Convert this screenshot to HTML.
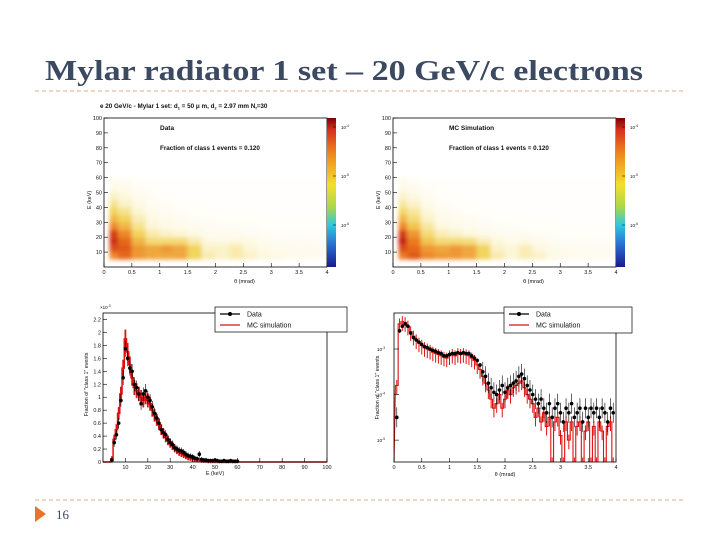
<!DOCTYPE html>
<html><head><meta charset="utf-8">
<style>
html,body{margin:0;padding:0;background:#fff;width:720px;height:540px;overflow:hidden;}
svg{display:block;font-family:"Liberation Sans",Arial,sans-serif;}
</style></head>
<body>
<svg id="slide" width="720" height="540" viewBox="0 0 720 540" xmlns="http://www.w3.org/2000/svg">
<defs>
<linearGradient id="cbar" x1="0" y1="0" x2="0" y2="1">
<stop offset="0" stop-color="#7a0403"/><stop offset="0.08" stop-color="#d7301f"/>
<stop offset="0.25" stop-color="#f08c1e"/><stop offset="0.45" stop-color="#f2e02c"/>
<stop offset="0.6" stop-color="#a8d84a"/><stop offset="0.72" stop-color="#2ec8e0"/>
<stop offset="0.85" stop-color="#2a6fd0"/><stop offset="1" stop-color="#1a1a8c"/>
</linearGradient>
<filter id="soft" x="-5%" y="-5%" width="110%" height="110%"><feGaussianBlur stdDeviation="2"/></filter>
<clipPath id="clipTL"><rect x="104" y="118" width="223" height="149"/></clipPath>
<clipPath id="clipTR"><rect x="393" y="118" width="223" height="149"/></clipPath>
<clipPath id="clipBR"><rect x="394" y="313" width="222" height="149"/></clipPath>
</defs>
<text x="45" y="80" font-family="Liberation Serif, serif" font-size="28" font-weight="bold" fill="#3b4a60" textLength="598" lengthAdjust="spacingAndGlyphs">Mylar radiator 1 set – 20 GeV/c electrons</text>
<line x1="35" y1="91" x2="686" y2="91" stroke="#dcae80" stroke-width="1" stroke-dasharray="4,3"/>
<line x1="35" y1="500" x2="686" y2="500" stroke="#dcae80" stroke-width="1" stroke-dasharray="4,3"/>
<polygon points="35,506 46,514 35,522" fill="#e8742a"/>
<text x="56" y="519" font-family="Liberation Serif, serif" font-size="13" fill="#3b4a60">16</text>
<text x="100" y="108" font-size="6.3" font-weight="bold" fill="#111">e 20 GeV/c - Mylar 1 set: d<tspan font-size="4" dy="1.5">1</tspan><tspan dy="-1.5"> = 50 μ m, d</tspan><tspan font-size="4" dy="1.5">2</tspan><tspan dy="-1.5"> = 2.97 mm N</tspan><tspan font-size="4" dy="1.5">f</tspan><tspan dy="-1.5">=30</tspan></text>
<g id="charts"></g>
</svg>
<script>
// ---- heatmap data: theta bins of 0.25 mrad (16), energy bins of 5 keV (rows from 5 keV up)
const thetaBinEdges = [0,0.25,0.5,0.75,1,1.25,1.5,1.75,2,2.25,2.5,2.75,3,3.25,3.5,3.75];
const energyBinEdges = [5,10,15,20,25,30,35,40,45,50,55];
const dataGrid = [
 [0.6,0.7,0.55,0.5,0.5,0.5,0.35,0.2,0.15,0.2,0.15,0.1,0.08,0.06,0.06,0.05],
 [0.8,0.75,0.55,0.5,0.55,0.5,0.35,0.15,0.15,0.2,0.12,0.08,0.06,0.05,0.05,0.05],
 [0.9,0.7,0.45,0.3,0.3,0.3,0.2,0.1,0.08,0.1,0.08,0.05,0.04,0.04,0.04,0.03],
 [0.85,0.6,0.35,0.2,0.15,0.12,0.08,0.05,0.05,0.05,0.04,0.03,0.03,0.03,0.03,0.03],
 [0.6,0.45,0.25,0.12,0.08,0.06,0.05,0.04,0.03,0.03,0.03,0.02,0.02,0.02,0.02,0.02],
 [0.45,0.35,0.18,0.08,0.06,0.04,0.03,0.03,0.02,0.02,0.02,0.02,0.02,0.02,0.02,0.02],
 [0.35,0.25,0.12,0.06,0.04,0.03,0.02,0.02,0.02,0.02,0.02,0.01,0.01,0.01,0.01,0.01],
 [0.25,0.15,0.08,0.04,0.03,0.02,0.02,0.01,0.01,0.01,0.01,0.01,0.01,0.01,0.01,0.01],
 [0.15,0.1,0.05,0.03,0.02,0.01,0.01,0.01,0.01,0.01,0.01,0.01,0.01,0.01,0.01,0.01],
 [0.08,0.06,0.03,0.02,0.01,0.01,0.01,0.01,0.01,0.01,0.01,0.01,0.01,0.01,0.01,0.01],
 [0.05,0.04,0.02,0.01,0.01,0.01,0.01,0.01,0.01,0.01,0.01,0.01,0.01,0.01,0.01,0.01]
];
const mcGrid = [
 [0.65,0.75,0.6,0.55,0.55,0.5,0.35,0.2,0.12,0.18,0.15,0.08,0.06,0.05,0.05,0.04],
 [0.8,0.7,0.55,0.5,0.55,0.5,0.35,0.15,0.12,0.18,0.1,0.07,0.05,0.04,0.04,0.04],
 [0.95,0.65,0.4,0.3,0.3,0.28,0.18,0.1,0.07,0.08,0.06,0.04,0.03,0.03,0.03,0.03],
 [0.85,0.55,0.3,0.18,0.14,0.1,0.07,0.05,0.04,0.04,0.03,0.03,0.02,0.02,0.02,0.02],
 [0.6,0.4,0.22,0.1,0.07,0.05,0.04,0.03,0.03,0.02,0.02,0.02,0.02,0.02,0.02,0.02],
 [0.45,0.3,0.15,0.07,0.05,0.04,0.03,0.02,0.02,0.02,0.02,0.01,0.01,0.01,0.01,0.01],
 [0.32,0.22,0.1,0.05,0.03,0.02,0.02,0.02,0.01,0.01,0.01,0.01,0.01,0.01,0.01,0.01],
 [0.22,0.14,0.07,0.03,0.02,0.02,0.01,0.01,0.01,0.01,0.01,0.01,0.01,0.01,0.01,0.01],
 [0.14,0.09,0.04,0.02,0.02,0.01,0.01,0.01,0.01,0.01,0.01,0.01,0.01,0.01,0.01,0.01],
 [0.08,0.05,0.03,0.02,0.01,0.01,0.01,0.01,0.01,0.01,0.01,0.01,0.01,0.01,0.01,0.01],
 [0.05,0.03,0.02,0.01,0.01,0.01,0.01,0.01,0.01,0.01,0.01,0.01,0.01,0.01,0.01,0.01]
];
const thetaTicks = [0,0.5,1,1.5,2,2.5,3,3.5,4];
const thetaTickLabels = ["0","0.5","1","1.5","2","2.5","3","3.5","4"];
const energyTicks = [10,20,30,40,50,60,70,80,90,100];

// ---- energy spectrum (x 10^-3), 1 keV bins
const specE = [4,5,6,7,8,9,10,11,12,13,14,15,16,17,18,19,20,21,22,23,24,25,26,27,28,29,30,31,32,33,34,35,36,37,38,39,40,41,42,43,44,45,46,47,48,49,50,51,52,53,54,55,56,57,58,59,60];
const specData = [0.03,0.3,0.42,0.6,0.95,1.3,1.75,1.6,1.45,1.4,1.2,1.15,1.05,0.9,1.05,1.1,1.0,0.95,0.85,0.75,0.68,0.6,0.5,0.45,0.42,0.35,0.3,0.27,0.22,0.2,0.18,0.17,0.15,0.12,0.1,0.09,0.08,0.06,0.05,0.12,0.04,0.03,0.03,0.02,0.02,0.02,0.03,0.02,0.01,0.01,0.02,0.01,0.01,0.02,0.01,0.01,0.01];
const specMC = [0.05,0.35,0.5,0.75,1.05,1.45,1.9,1.7,1.5,1.3,1.15,1.1,1.05,1.0,0.95,1.0,0.95,0.9,0.8,0.72,0.65,0.58,0.5,0.44,0.38,0.33,0.29,0.25,0.21,0.18,0.15,0.13,0.11,0.09,0.07,0.06,0.05,0.04,0.03,0.03,0.02,0.02,0.02,0.01,0.01,0.01,0.01,0.01,0.01,0.01,0.01,0.01,0.01,0.01,0.01,0.01,0.01];
const specYTicks = [0,0.2,0.4,0.6,0.8,1,1.2,1.4,1.6,1.8,2,2.2];
const specXTicks = [10,20,30,40,50,60,70,80,90,100];

// ---- theta spectrum, log10 of fraction, 0.05 mrad bins
const angTheta = [0.05,0.1,0.15,0.2,0.25,0.3,0.35,0.4,0.45,0.5,0.55,0.6,0.65,0.7,0.75,0.8,0.85,0.9,0.95,1.0,1.05,1.1,1.15,1.2,1.25,1.3,1.35,1.4,1.45,1.5,1.55,1.6,1.65,1.7,1.75,1.8,1.85,1.9,1.95,2.0,2.05,2.1,2.15,2.2,2.25,2.3,2.35,2.4,2.45,2.5,2.55,2.6,2.65,2.7,2.75,2.8,2.85,2.9,2.95,3.0,3.05,3.1,3.15,3.2,3.25,3.3,3.35,3.4,3.45,3.5,3.55,3.6,3.65,3.7,3.75,3.8,3.85,3.9,3.95];
const angDataLog = [-4.5,-2.6,-2.5,-2.45,-2.5,-2.65,-2.75,-2.8,-2.85,-2.9,-2.95,-2.97,-3.0,-3.03,-3.05,-3.08,-3.1,-3.15,-3.15,-3.12,-3.1,-3.1,-3.08,-3.1,-3.08,-3.1,-3.1,-3.15,-3.2,-3.25,-3.35,-3.5,-3.6,-3.75,-3.85,-3.95,-4.0,-3.9,-3.8,-3.95,-3.85,-3.8,-3.75,-3.7,-3.6,-3.55,-3.65,-3.8,-3.9,-4.0,-4.1,-4.2,-4.1,-4.3,-4.4,-4.2,-4.5,-4.3,-4.2,-4.4,-4.6,-4.3,-4.4,-4.2,-4.5,-4.4,-4.3,-4.6,-4.3,-4.5,-4.3,-4.4,-4.3,-4.5,-4.3,-4.4,-4.6,-4.3,-4.4];
const angMCLog = [-3.8,-2.45,-2.4,-2.42,-2.5,-2.62,-2.72,-2.8,-2.87,-2.92,-2.97,-3.0,-3.03,-3.07,-3.1,-3.12,-3.15,-3.18,-3.2,-3.15,-3.12,-3.15,-3.1,-3.12,-3.1,-3.13,-3.15,-3.2,-3.25,-3.35,-3.45,-3.6,-3.75,-3.9,-4.1,-4.3,-4.2,-4.0,-4.3,-4.1,-3.9,-4.0,-3.85,-3.8,-3.75,-3.7,-3.85,-4.0,-4.1,-4.2,-4.5,-4.3,-4.6,-4.4,-4.7,-4.5,-5.5,-4.6,-4.5,-4.9,-5.5,-4.6,-5.0,-4.6,-5.5,-4.7,-4.6,-5.5,-4.8,-4.6,-5.5,-4.7,-5.5,-4.6,-4.8,-5.5,-4.7,-4.6,-5.5];
const angYTicks = [-5,-4,-3];

const NS="http://www.w3.org/2000/svg";
const root=document.getElementById('charts');
function mk(tag,attrs,parent){const e=document.createElementNS(NS,tag);for(const k in attrs)e.setAttribute(k,attrs[k]);(parent||root).appendChild(e);return e;}
function lerp(a,b,t){return Math.round(a+(b-a)*t);}
function mix(c1,c2,t){return `rgb(${lerp(c1[0],c2[0],t)},${lerp(c1[1],c2[1],t)},${lerp(c1[2],c2[2],t)})`;}
function heatColor(v){
  const W=[255,255,255],P=[252,246,215],Y=[242,212,90],O=[236,120,28],R=[195,25,10];
  if(v<0.12)return mix(W,P,v/0.12);
  if(v<0.35)return mix(P,Y,(v-0.12)/0.23);
  if(v<0.65)return mix(Y,O,(v-0.35)/0.3);
  return mix(O,R,Math.min(1,(v-0.65)/0.3));
}
function txt(x,y,s,size,anchor,parent,extra){const t=mk('text',Object.assign({x:x,y:y,'font-size':size,'text-anchor':anchor||'start',fill:'#111'},extra||{}),parent);t.textContent=s;return t;}

function heatmap(px,py,pw,ph,grid,label,clip,prefix){
  const g=mk('g',{});
  
  
  const xs=t=>px+t/4*pw, ys=e=>py+ph-e/100*ph;
  const cells=mk('g',{'clip-path':'url(#'+clip+')',filter:'url(#soft)'},g);
  for(let r=0;r<grid.length;r++)for(let c=0;c<grid[r].length;c++){
    const t0=thetaBinEdges[c], e0=energyBinEdges[r];
    const x0=xs(Math.max(t0,0.1)), x1=xs(t0+0.25), y0=ys(e0+5), y1=ys(e0);
    const cell=mk('rect',{x:x0,y:y0,width:x1-x0,height:y1-y0,fill:heatColor(grid[r][c])},cells);
    
    
  }
  const fr=mk('rect',{x:px,y:py,width:pw,height:ph,fill:'none',stroke:'#000','stroke-width':0.8},g);
  
  
  thetaTicks.forEach((t,i)=>{mk('line',{x1:xs(t),x2:xs(t),y1:py+ph,y2:py+ph-4,stroke:'#000','stroke-width':0.6},g);txt(xs(t),py+ph+7,thetaTickLabels[i],5.5,'middle',g);});
  energyTicks.forEach(e=>{mk('line',{x1:px,x2:px+4,y1:ys(e),y2:ys(e),stroke:'#000','stroke-width':0.6},g);txt(px-2,ys(e)+2,String(e),5.5,'end',g);});
  const xl=txt(px+pw*0.63,py+ph+16,'θ (mrad)',5.5,'middle',g);
  
  
  const yl=txt(0,0,'E (keV)',5.5,'middle',g,{transform:`translate(${px-13},${py+ph*0.55}) rotate(-90)`});
  
  
  const cb=mk('rect',{x:px+pw,y:py,width:9,height:ph,fill:'url(#cbar)'},g);
  
  
  [['10',-4,9],['10',-5,58],['10',-6,107]].forEach(a=>{
    const t=txt(px+pw+14,py+a[2]+2,a[0],4.5,'start',g);
    const s=mk('tspan',{'font-size':3.2,dy:-2},t);s.textContent=String(a[1]);
    mk('line',{x1:px+pw+9,x2:px+pw+6,y1:py+a[2],y2:py+a[2],stroke:'#000','stroke-width':0.5},g);
  });
  const l1=txt(px+56,py+12,label,6.5,'start',g,{'font-weight':'bold'});
  
  
  const l2=txt(px+56,py+32,'Fraction of class 1 events = 0.120',6.3,'start',g,{'font-weight':'bold'});
  
  
}
heatmap(104,118,223,149,dataGrid,'Data','clipTL','data');
heatmap(393,118,223,149,mcGrid,'MC Simulation','clipTR','mc');

function legend(x,y,w,h,g){
  const box=mk('rect',{x:x,y:y,width:w,height:h,fill:'#fff',stroke:'#000','stroke-width':0.7},g);
  
  
  mk('line',{x1:x+5,x2:x+25,y1:y+7,y2:y+7,stroke:'#000','stroke-width':1.2},g);
  mk('circle',{cx:x+15,cy:y+7,r:2,fill:'#000'},g);
  const a=txt(x+32,y+9.5,'Data',7,'start',g);
  
  
  mk('line',{x1:x+5,x2:x+25,y1:y+18,y2:y+18,stroke:'#e01010','stroke-width':1.2},g);
  const b=txt(x+32,y+20.5,'MC simulation',7,'start',g);
  
  
}

// ---- bottom-left energy spectrum
(function(){
  const px=103,py=313,pw=224,ph=149;
  const g=mk('g',{});
  
  
  const xs=e=>px+e/100*pw, ys=v=>py+ph-v/2.3*ph;
  let d=`M${xs(0)},${ys(0)} L${xs(specE[0]-0.5)},${ys(0)}`;
  specE.forEach((e,i)=>{d+=` L${xs(e-0.5)},${ys(specMC[i])} L${xs(e+0.5)},${ys(specMC[i])}`;});
  d+=` L${xs(specE[specE.length-1]+0.5)},${ys(0)} L${xs(100)},${ys(0)}`;
  specE.forEach((e,i)=>{const err=Math.sqrt(specMC[i])*0.09+0.02;
    const eb=mk('line',{x1:xs(e),x2:xs(e),y1:ys(specMC[i]-err),y2:ys(specMC[i]+err),stroke:'#e01010','stroke-width':1.8},g);
    
    });
  const mc=mk('path',{d:d,fill:'none',stroke:'#e01010','stroke-width':1.5},g);
  
  
  specE.forEach((e,i)=>{const err=Math.sqrt(specData[i])*0.08+0.02;
    mk('line',{x1:xs(e),x2:xs(e),y1:ys(specData[i]-err),y2:ys(specData[i]+err),stroke:'#000','stroke-width':0.6},g);
    const p=mk('circle',{cx:xs(e),cy:ys(specData[i]),r:1.8,fill:'#000'},g);
    
    });
  const fr=mk('rect',{x:px,y:py,width:pw,height:ph,fill:'none',stroke:'#000','stroke-width':0.8},g);
  
  
  specXTicks.forEach(e=>{mk('line',{x1:xs(e),x2:xs(e),y1:py+ph,y2:py+ph-4,stroke:'#000','stroke-width':0.6},g);txt(xs(e),py+ph+7,String(e),5.5,'middle',g);});
  specYTicks.forEach(v=>{mk('line',{x1:px,x2:px+4,y1:ys(v),y2:ys(v),stroke:'#000','stroke-width':0.6},g);txt(px-2,ys(v)+2,String(v),5.5,'end',g);});
  const m=txt(px-3,py-4,'×10',4.5,'start',g);const ms=mk('tspan',{'font-size':3.2,dy:-2},m);ms.textContent='-3';
  const xl=txt(px+pw*0.5,py+ph+13,'E (keV)',5.5,'middle',g);
  
  
  const yl=txt(0,0,'Fraction of "class 1" events',5.3,'middle',g,{transform:`translate(${px-15},${py+ph*0.48}) rotate(-90)`});
  
  
  legend(215,307,132,25,g);
})();

// ---- bottom-right angular spectrum (log)
(function(){
  const px=394,py=313,pw=222,ph=149;
  const g=mk('g',{});
  
  
  const xs=t=>px+t/4*pw, ys=l=>py+ph-(l+5.48)/3.27*ph;
  const cg=mk('g',{'clip-path':'url(#clipBR)'},g);
  const hw=0.025;
  let d=`M${xs(0)},${ys(-5.5)}`;
  angTheta.forEach((t,i)=>{d+=` L${xs(t-hw)},${ys(angMCLog[i])} L${xs(t+hw)},${ys(angMCLog[i])}`;});
  angTheta.forEach((t,i)=>{
    const eb=mk('line',{x1:xs(t),x2:xs(t),y1:ys(angMCLog[i]-0.2),y2:ys(angMCLog[i]+0.12),stroke:'#e01010','stroke-width':1},cg);
    
    });
  const mc=mk('path',{d:d,fill:'none',stroke:'#e01010','stroke-width':1.1},cg);
  
  
  angTheta.forEach((t,i)=>{
    const l=angDataLog[i];const er=l>-3.5?0.04:0.22;
    mk('line',{x1:xs(t),x2:xs(t),y1:ys(l-er),y2:ys(l+er),stroke:'#000','stroke-width':0.6},cg);
    const p=mk('circle',{cx:xs(t),cy:ys(l),r:1.8,fill:'#000'},cg);
    
    });
  const fr=mk('rect',{x:px,y:py,width:pw,height:ph,fill:'none',stroke:'#000','stroke-width':0.8},g);
  
  
  thetaTicks.forEach((t,i)=>{mk('line',{x1:xs(t),x2:xs(t),y1:py+ph,y2:py+ph-4,stroke:'#000','stroke-width':0.6},g);txt(xs(t),py+ph+7,thetaTickLabels[i],5.5,'middle',g);});
  angYTicks.forEach(l=>{mk('line',{x1:px,x2:px+5,y1:ys(l),y2:ys(l),stroke:'#000','stroke-width':0.6},g);
    const t=txt(px-9,ys(l)+2,'10',4.8,'end',g);const s=mk('tspan',{'font-size':3.2,dy:-2},t);s.textContent=String(l);});
  const xl=txt(px+pw*0.5,py+ph+14,'θ (mrad)',5.5,'middle',g);
  
  
  const yl=txt(0,0,'Fraction of "class 1" events',5.3,'middle',g,{transform:`translate(${px-15},${py+ph*0.5}) rotate(-90)`});
  
  
  legend(504,307,128,26,g);
})();
</script>
</body></html>
